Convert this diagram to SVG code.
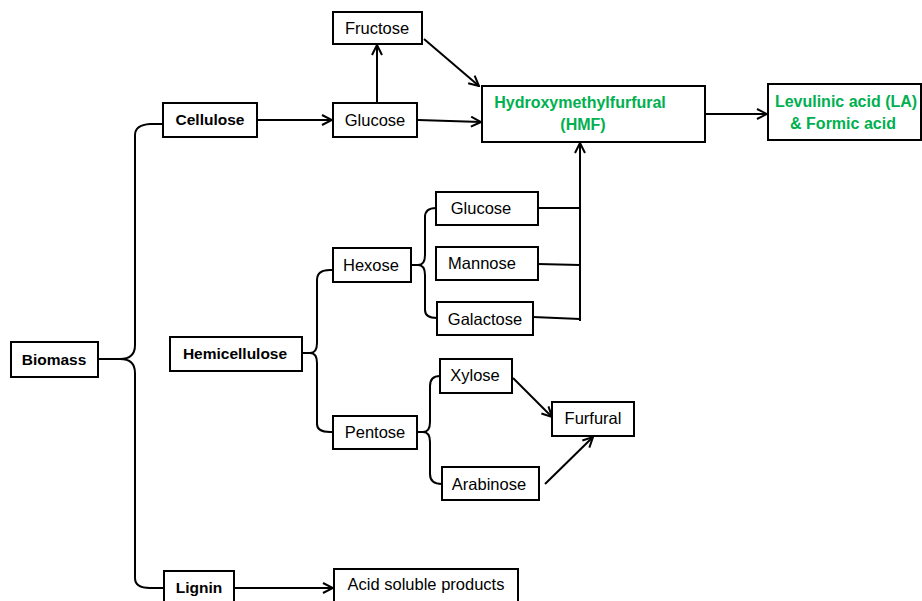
<svg xmlns="http://www.w3.org/2000/svg" width="922" height="601" viewBox="0 0 922 601">
<defs>
<marker id="arr" viewBox="0 0 12 12" refX="11" refY="6" markerWidth="12" markerHeight="12" markerUnits="userSpaceOnUse" orient="auto">
<path d="M1,1 L11,6 L1,11" fill="none" stroke="#000" stroke-width="2"/>
</marker>
<style>
rect{fill:#fff;stroke:#000;stroke-width:2}
text{font-family:"Liberation Sans",Arial,sans-serif;font-size:16.5px;fill:#000;text-anchor:middle}
.b{font-weight:bold;font-size:15.5px}
.g{fill:#00B050;font-weight:bold;font-size:16px}
.c path,.c line{fill:none;stroke:#000;stroke-width:2}
</style>
</defs>
<rect x="0" y="0" width="922" height="601" style="fill:#fff;stroke:none"/>
<g class="c" id="connectors">
<path d="M98,359 L120,359 Q135,359 135,345 L135,135 Q135,125 150,124 L163,124"/>
<path d="M120,359 Q135,359 135,373 L135,578 Q135,588 150,588 L164,588"/>
<line x1="257" y1="120" x2="332" y2="120" marker-end="url(#arr)"/>
<line x1="377" y1="103" x2="377" y2="45" marker-end="url(#arr)"/>
<line x1="424" y1="39" x2="479" y2="86" marker-end="url(#arr)"/>
<line x1="418" y1="120" x2="481" y2="122" marker-end="url(#arr)"/>
<line x1="705" y1="114" x2="767" y2="114" marker-end="url(#arr)"/>
<line x1="234" y1="588" x2="333" y2="588" marker-end="url(#arr)"/>
<path d="M302,353 L310,353 Q317,353 317,343 L317,280 Q317,270 330,270 L333,270"/>
<path d="M310,353 Q317,353 317,363 L317,424 Q317,432 330,432 L333,432"/>
<path d="M411,265 L418,265 Q425,265 425,255 L425,217 Q425,208 436,208"/>
<path d="M418,265 Q425,265 425,275 L425,310 Q425,318 437,318"/>
<line x1="538" y1="208" x2="580" y2="208"/>
<line x1="538" y1="264" x2="580" y2="265"/>
<line x1="533" y1="317" x2="580" y2="319"/>
<line x1="580" y1="321" x2="580" y2="143" marker-end="url(#arr)"/>
<path d="M417,432 L423,432 Q430,432 430,422 L430,386 Q430,376 440,376"/>
<path d="M423,432 Q430,432 430,442 L430,474 Q430,484 442,484"/>
<line x1="513" y1="378" x2="552" y2="417" marker-end="url(#arr)"/>
<line x1="545" y1="484" x2="593" y2="437" marker-end="url(#arr)"/>
</g>
<g id="biomass"><rect x="11" y="342" width="87" height="35"/><text class="b" x="54" y="365">Biomass</text></g>
<g id="cellulose"><rect x="163" y="103" width="94" height="34"/><text class="b" x="210" y="125">Cellulose</text></g>
<g id="glucose1"><rect x="333" y="103" width="84" height="34"/><text x="375" y="126">Glucose</text></g>
<g id="fructose"><rect x="333" y="12" width="89" height="32"/><text x="377" y="34">Fructose</text></g>
<g id="hmf"><rect x="482" y="86" width="223" height="56"/><text class="g" x="580" y="108">Hydroxymethylfurfural</text><text class="g" x="583" y="130">(HMF)</text></g>
<g id="la"><rect x="768" y="84" width="153" height="56"/><text class="g" x="846" y="107">Levulinic acid (LA)</text><text class="g" x="843" y="129">&amp; Formic acid</text></g>
<g id="hemicellulose"><rect x="170" y="337" width="132" height="34"/><text class="b" x="235" y="359">Hemicellulose</text></g>
<g id="hexose"><rect x="333" y="248" width="78" height="34"/><text x="371" y="271">Hexose</text></g>
<g id="glucose2"><rect x="436" y="192" width="102" height="33"/><text x="481" y="214">Glucose</text></g>
<g id="mannose"><rect x="436" y="247" width="102" height="33"/><text x="482" y="269">Mannose</text></g>
<g id="galactose"><rect x="437" y="302" width="96" height="33"/><text x="485" y="325">Galactose</text></g>
<g id="pentose"><rect x="333" y="416" width="84" height="33"/><text x="375" y="438">Pentose</text></g>
<g id="xylose"><rect x="440" y="359" width="72" height="34"/><text x="475" y="381">Xylose</text></g>
<g id="arabinose"><rect x="442" y="467" width="97" height="33"/><text x="489" y="490">Arabinose</text></g>
<g id="furfural"><rect x="552" y="402" width="82" height="34"/><text x="593" y="424">Furfural</text></g>
<g id="lignin"><rect x="164" y="571" width="70" height="40"/><text class="b" x="199" y="593">Lignin</text></g>
<g id="acid"><rect x="334" y="569" width="184" height="42"/><text x="426" y="590">Acid soluble products</text></g>
</svg>
